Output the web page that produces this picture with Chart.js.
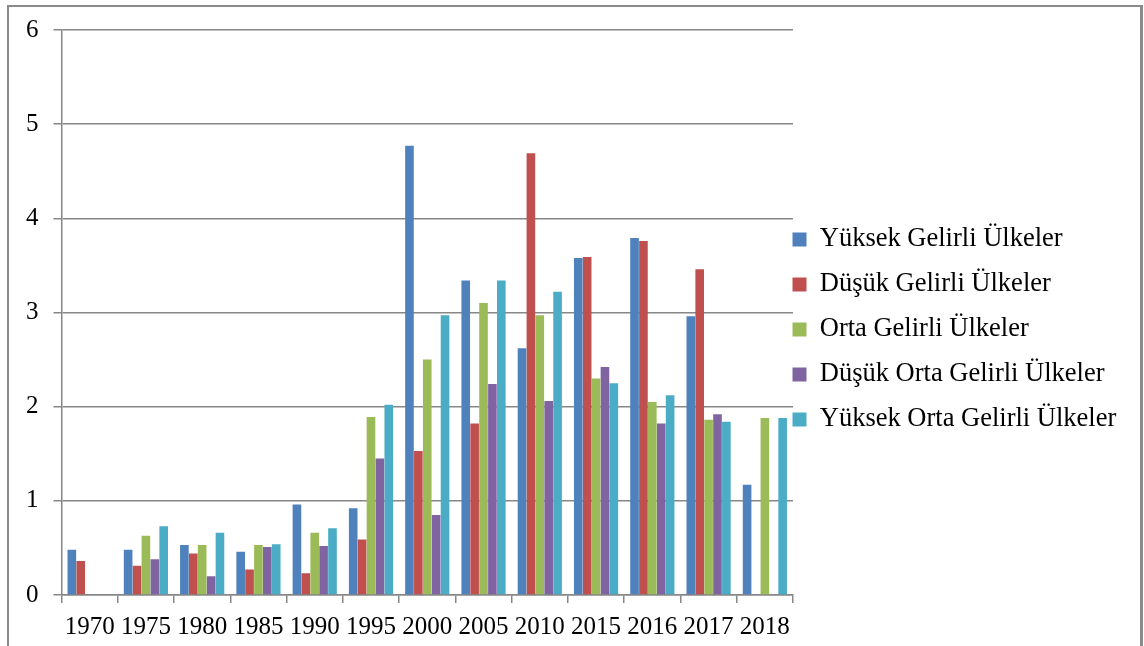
<!DOCTYPE html>
<html>
<head>
<meta charset="utf-8">
<script src="https://cdn.jsdelivr.net/npm/chart.js@4/dist/chart.umd.min.js"></script>
<style>
  html, body { margin: 0; padding: 0; background: #fff; overflow: hidden; }
  #wrap { position: absolute; left: 0; top: 0; width: 1144px; height: 657px; }
  #frame {
    position: absolute; left: 7px; top: 5px; width: 1131px; height: 700px;
    border: 2px solid #8a8a8a; border-right-width: 3px; pointer-events: none;
  }
</style>
</head>
<body>
<div id="wrap"><canvas id="chart"></canvas></div>
<div id="frame"></div>
<script>
// Years on the x axis
const years = ['1970', '1975', '1980', '1985', '1990', '1995', '2000', '2005', '2010', '2015', '2016', '2017', '2018'];

// Series values
const yuksekGelirli      = [0.48, 0.48, 0.53, 0.46, 0.96, 0.92, 4.77, 3.34, 2.62, 3.58, 3.79, 2.96, 1.17];
const dusukGelirli       = [0.36, 0.31, 0.44, 0.27, 0.23, 0.59, 1.53, 1.82, 4.69, 3.59, 3.76, 3.46, null];
const ortaGelirli        = [null, 0.63, 0.53, 0.53, 0.66, 1.89, 2.50, 3.10, 2.97, 2.30, 2.05, 1.86, 1.88];
const dusukOrtaGelirli   = [null, 0.38, 0.20, 0.51, 0.52, 1.45, 0.85, 2.24, 2.06, 2.42, 1.82, 1.92, null];
const yuksekOrtaGelirli  = [null, 0.73, 0.66, 0.54, 0.71, 2.02, 2.97, 3.34, 3.22, 2.25, 2.12, 1.84, 1.88];

const yTicks = [0, 1, 2, 3, 4, 5, 6];

const gridGray = '#878787';
const serif = "'Liberation Serif', 'Times New Roman', serif";

// Legend column is wider than Chart.js allows by default, and sits close to the plot
const legendFix = {
    id: 'legendFix',
    beforeLayout(chart) {
        const lg = chart.legend;
        if (lg && !lg._widthPatched) {
            const origFit = lg.fit.bind(lg);
            lg.fit = function () {
                origFit();
                this.width = 351;
            };
            lg._widthPatched = true;
        }
    },
    afterLayout(chart) {
        const lg = chart.legend;
        if (lg) {
            lg.left -= 19;
            lg.top -= 11;
            lg.bottom -= 11;
        }
    }
};

function makeSet(label, data, color) {
    return {
        label,
        data,
        backgroundColor: color,
        borderWidth: 0,
        categoryPercentage: 0.79,
        barPercentage: 0.97,
    };
}

new Chart(document.getElementById('chart'), {
    type: 'bar',
    data: {
        labels: years,
        datasets: [
            makeSet('Yüksek Gelirli Ülkeler', yuksekGelirli, '#4F81BD'),
            makeSet('Düşük Gelirli Ülkeler', dusukGelirli, '#C0504D'),
            makeSet('Orta Gelirli Ülkeler', ortaGelirli, '#9BBB59'),
            makeSet('Düşük Orta Gelirli Ülkeler', dusukOrtaGelirli, '#8064A2'),
            makeSet('Yüksek Orta Gelirli Ülkeler', yuksekOrtaGelirli, '#4BACC6'),
        ],
    },
    options: {
        responsive: true,
        maintainAspectRatio: false,
        animation: false,
        layout: { padding: { left: 11, top: 30, right: 0, bottom: 6 } },
        plugins: {
            tooltip: { enabled: false },
            legend: {
                position: 'right',
                labels: {
                    color: '#000',
                    font: { family: serif, size: 26.5 },
                    boxWidth: 14,
                    boxHeight: 14,
                    padding: 18.5,
                },
            },
        },
        scales: {
            x: {
                grid: {
                    display: true,
                    drawOnChartArea: false,
                    offset: true,
                    tickLength: 8,
                    color: gridGray,
                    lineWidth: 1.5,
                },
                border: { color: gridGray, width: 1.5 },
                ticks: {
                    color: '#000',
                    font: { family: serif, size: 25 },
                    padding: 9,
                    maxRotation: 0,
                    autoSkip: false,
                },
            },
            y: {
                min: yTicks[0],
                max: yTicks[yTicks.length - 1],
                grid: { color: gridGray, lineWidth: 1.5, tickLength: 8 },
                border: { color: gridGray, width: 1.5 },
                ticks: {
                    stepSize: 1,
                    color: '#000',
                    font: { family: serif, size: 25 },
                    padding: 15,
                },
            },
        },
    },
    plugins: [legendFix],
});
</script>
</body>
</html>
